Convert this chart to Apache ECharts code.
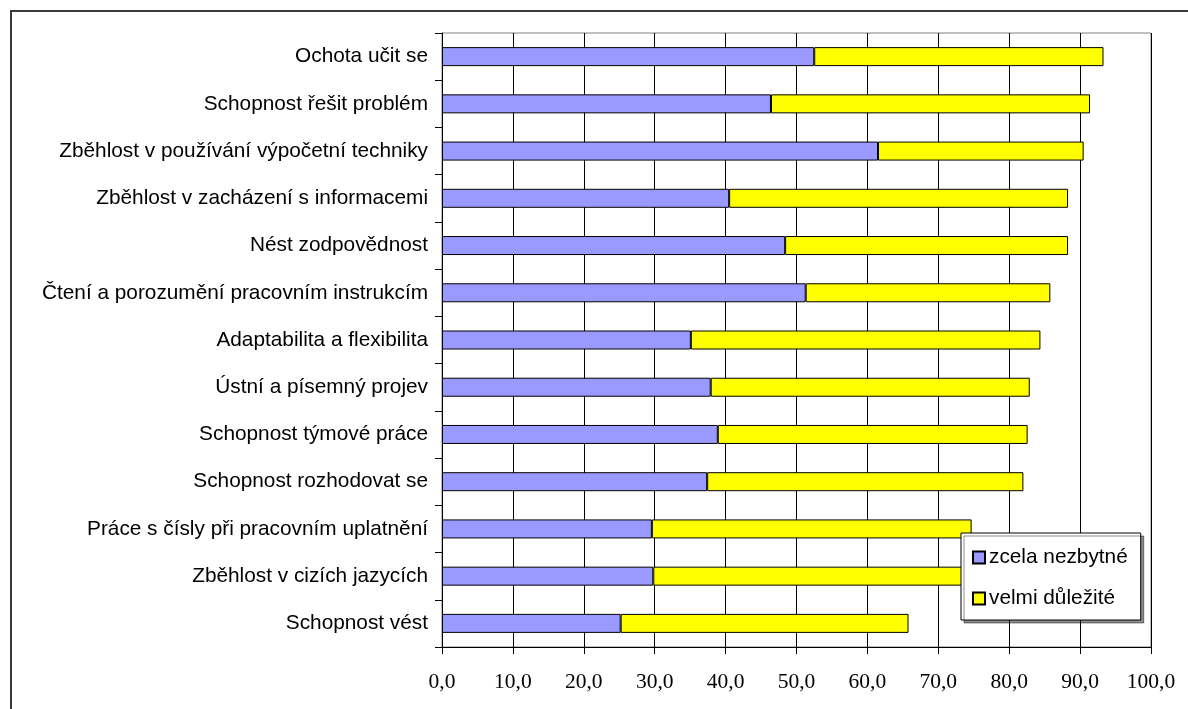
<!DOCTYPE html>
<html>
<head>
<meta charset="utf-8">
<style>
  html, body { margin: 0; padding: 0; background: #fff; }
  #chart { width: 1188px; height: 709px; }
</style>
<script src="https://cdn.jsdelivr.net/npm/echarts@6/dist/echarts.min.js"></script>
</head>
<body>
<div id="chart"></div>
<script>
// Dovednosti, seřazené shora dolů
const categories = [
  'Ochota učit se',
  'Schopnost řešit problém',
  'Zběhlost v používání výpočetní techniky',
  'Zběhlost v zacházení s informacemi',
  'Nést zodpovědnost',
  'Čtení a porozumění pracovním instrukcím',
  'Adaptabilita a flexibilita',
  'Ústní a písemný projev',
  'Schopnost týmové práce',
  'Schopnost rozhodovat se',
  'Práce s čísly při pracovním uplatnění',
  'Zběhlost v cizích jazycích',
  'Schopnost vést'
];

// Podíl odpovědí v %
const zcelaNezbytne = [52.5, 46.4, 61.5, 40.5, 48.4, 51.3, 35.1, 37.9, 38.9, 37.4, 29.6, 29.8, 25.2];
const velmiDulezite = [40.8, 45.0, 29.0, 47.8, 39.9, 34.5, 49.3, 45.0, 43.7, 44.6, 45.1, 46.0, 40.6];

const seriesNames = ['zcela nezbytné', 'velmi důležité'];
const seriesColors = ['#9999FF', '#FFFF00'];

const chart = echarts.init(document.getElementById('chart'), null, { renderer: 'canvas' });

const sansFont = '"Liberation Sans", Arial, sans-serif';
const serifFont = '"Liberation Serif", "Times New Roman", serif';

const makeSeries = (name, data, color) => ({
  name: name,
  type: 'bar',
  stack: 'celkem',
  barWidth: 19,
  data: data,
  itemStyle: {
    color: color,
    borderColor: '#000',
    borderWidth: 1
  },
  emphasis: { disabled: true },
  animation: false
});

chart.setOption({
  animation: false,
  backgroundColor: '#fff',
  textStyle: { fontFamily: sansFont },
  graphic: [{
    type: 'rect',
    shape: { x: 11, y: 11, width: 1200, height: 720 },
    style: { fill: 'none', stroke: '#3a3a3a', lineWidth: 2 },
    silent: true,
    z: -10
  }],
  grid: {
    left: 442,
    right: 37,
    top: 33,
    bottom: 62,
    show: true,
    borderColor: '#808080',
    borderWidth: 1,
    backgroundColor: '#fff'
  },
  legend: {
    orient: 'vertical',
    left: 961,
    top: 533,
    padding: [14, 13, 11, 11],
    itemGap: 20,
    itemWidth: 12,
    itemHeight: 12,
    backgroundColor: '#fff',
    borderColor: '#000',
    borderWidth: 1,
    borderRadius: 0,
    shadowColor: 'rgba(0,0,0,0.45)',
    shadowBlur: 0,
    shadowOffsetX: 3,
    shadowOffsetY: 3,
    textStyle: { fontFamily: sansFont, fontSize: 20.8, color: '#000', padding: [0, 0, 0, -1] },
    data: seriesNames.map(n => ({ name: n, icon: 'rect' })),
    selectedMode: false
  },
  xAxis: {
    type: 'value',
    min: 0,
    max: 100,
    interval: 10,
    axisLine: { show: true, lineStyle: { color: '#000', width: 1 } },
    axisTick: { show: true, length: 7, lineStyle: { color: '#000' } },
    axisLabel: {
      fontFamily: serifFont,
      fontSize: 21.5,
      color: '#000',
      margin: 24,
      formatter: v => v.toFixed(1).replace('.', ',')
    },
    splitLine: { show: true, lineStyle: { color: '#000', width: 1 } }
  },
  yAxis: {
    type: 'category',
    inverse: true,
    data: categories,
    axisLine: { show: true, lineStyle: { color: '#000', width: 1 } },
    axisTick: { show: true, length: 7, lineStyle: { color: '#000' } },
    axisLabel: {
      fontFamily: sansFont,
      fontSize: 20.8,
      color: '#000',
      margin: 14
    },
    splitLine: { show: false }
  },
  series: [
    makeSeries(seriesNames[0], zcelaNezbytne, seriesColors[0]),
    makeSeries(seriesNames[1], velmiDulezite, seriesColors[1])
  ]
});
</script>
</body>
</html>
